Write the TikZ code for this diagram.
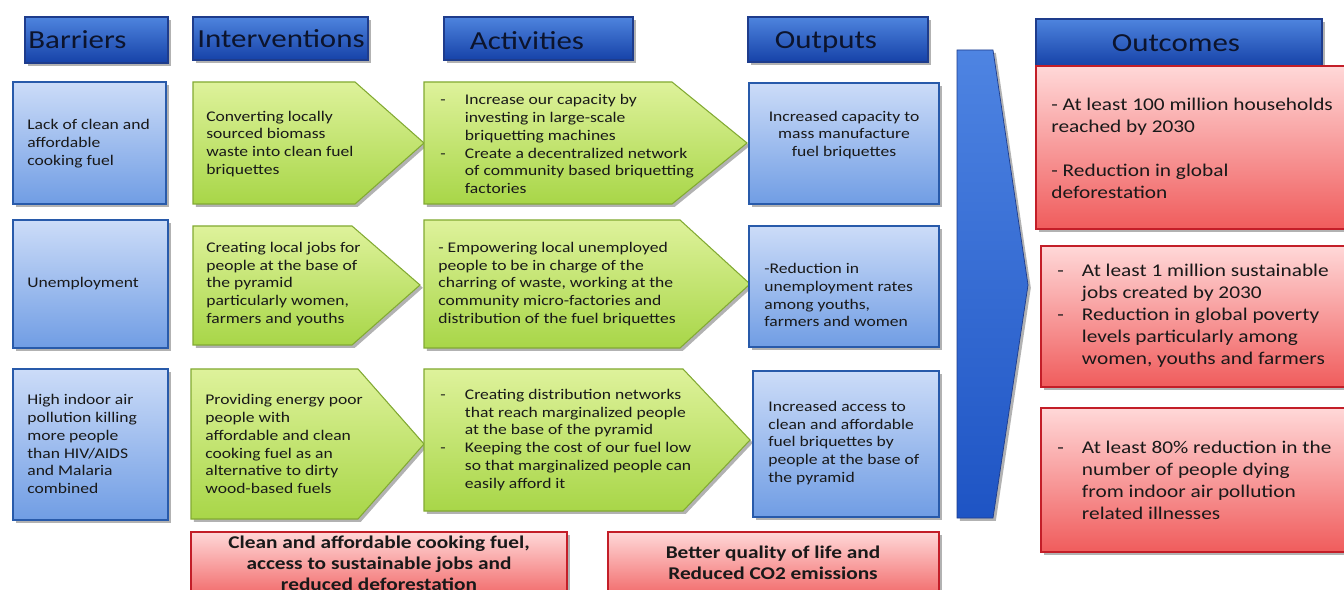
\documentclass[tikz,border=0pt]{standalone}
\usepackage{fontspec}
\setmainfont{Carlito}[FakeStretch=1.19]
\usetikzlibrary{shadows}

\definecolor{hdtop}{RGB}{78,132,222}
\definecolor{hdbot}{RGB}{22,66,168}
\definecolor{hdline}{RGB}{30,60,140}
\definecolor{bltop}{RGB}{204,220,248}
\definecolor{blbot}{RGB}{112,157,228}
\definecolor{blline}{RGB}{40,90,170}
\definecolor{grtop}{RGB}{222,242,155}
\definecolor{grbot}{RGB}{168,214,72}
\definecolor{grline}{RGB}{130,170,50}
\definecolor{rdtop}{RGB}{255,216,216}
\definecolor{rdbot}{RGB}{240,92,92}
\definecolor{rdline}{RGB}{195,30,40}
\definecolor{chtop}{RGB}{78,132,226}
\definecolor{chbot}{RGB}{30,84,196}
\definecolor{txt}{RGB}{25,25,25}
\definecolor{txtdark}{RGB}{12,20,45}

\newcommand\dashlead{\makebox[14pt][l]{-}}
\newcommand\dashpad{\hspace*{14pt}}

\begin{document}
\begin{tikzpicture}[x=0.02cm,y=-0.02cm,
  shd/.style={drop shadow={shadow xshift=1.6pt,shadow yshift=-1.6pt,opacity=0.3,fill=black}},
  hdr/.style={shd,draw=hdline,line width=0.6pt,top color=hdtop,bottom color=hdbot},
  bluebox/.style={shd,draw=blline,line width=0.8pt,top color=bltop,bottom color=blbot},
  grnbox/.style={shd,draw=grline,line width=0.6pt,top color=grtop,bottom color=grbot},
  redbox/.style={shd,draw=rdline,line width=0.8pt,top color=rdtop,bottom color=rdbot},
  chev/.style={shd,draw=hdline,line width=0.4pt,top color=chtop,bottom color=chbot},
  hdtext/.style={font=\fontsize{14.8}{17}\selectfont,text=txtdark,inner sep=0pt},
  body/.style={font=\fontsize{8.4}{10.2}\selectfont,text=txt,align=left,anchor=west,inner sep=0pt},
  outc/.style={font=\fontsize{10.2}{12.5}\selectfont,text=txt,align=left,anchor=west,inner sep=0pt},
  concl/.style={font=\fontsize{10.2}{11.9}\selectfont\bfseries,text=txt,align=center,inner sep=0pt}
]
\useasboundingbox (0,0) rectangle (1344,590);
\fill[white] (0,0) rectangle (1344,590);

% column headers
\path[hdr] (25,17) rectangle (168,63);
\path[hdr] (193,17) rectangle (368,60);
\path[hdr] (444,17) rectangle (633,60);
\path[hdr] (748,17) rectangle (928,62);
\path[hdr] (1036,19) rectangle (1322,66);
\node[hdtext,anchor=west] (hBar) at (28,40) {Barriers};
\node[hdtext] (hInt) at (281,39) {Interventions};
\node[hdtext] (hAct) at (527,41) {Activities};
\node[hdtext] (hOut) at (826,42) {Outputs};
\node[hdtext] (hOc) at (1176,43) {Outcomes};

% barriers
\path[bluebox] (13,82) rectangle (166,204);
\path[bluebox] (13,220) rectangle (168,348);
\path[bluebox] (13,369) rectangle (168,520);
\node[body] (b1) at (27,144) {Lack of clean and\\affordable\\cooking fuel};
\node[body] (b2) at (27,284) {Unemployment};
\node[body] (b3) at (27,444) {High indoor air\\pollution killing\\more people\\than HIV/AIDS\\and Malaria\\combined};

% interventions
\path[grnbox] (193,82) -- (355,82) -- (424,143) -- (355,204) -- (193,204) -- cycle;
\path[grnbox] (193,226) -- (352,226) -- (420,285) -- (352,345) -- (193,345) -- cycle;
\path[grnbox] (191,369) -- (358,369) -- (424,444) -- (358,519) -- (191,519) -- cycle;
\node[body] (i1) at (206,144) {Converting locally\\sourced biomass\\waste into clean fuel\\briquettes};
\node[body] (i2) at (206,284) {Creating local jobs for\\people at the base of\\the pyramid\\particularly women,\\farmers and youths};
\node[body] (i3) at (205,444) {Providing energy poor\\people with\\affordable and clean\\cooking fuel as an\\alternative to dirty\\wood-based fuels};

% activities
\path[grnbox] (424,82) -- (672,82) -- (747,143) -- (672,204) -- (424,204) -- cycle;
\path[grnbox] (424,220) -- (680,220) -- (750,284) -- (680,348) -- (424,348) -- cycle;
\path[grnbox] (424,369) -- (683,369) -- (750,440) -- (683,511) -- (424,511) -- cycle;
\node[body] (a1) at (440,144) {\dashlead Increase our capacity by\\\dashpad investing in large-scale\\\dashpad briquetting machines\\\dashlead Create a decentralized network\\\dashpad of community based briquetting\\\dashpad factories};
\node[body] (a2) at (438,284) {- Empowering local unemployed\\people to be in charge of the\\charring of waste, working at the\\community micro-factories and\\distribution of the fuel briquettes};
\node[body] (a3) at (440,440) {\dashlead Creating distribution networks\\\dashpad that reach marginalized people\\\dashpad at the base of the pyramid\\\dashlead Keeping the cost of our fuel low\\\dashpad so that marginalized people can\\\dashpad easily afford it};

% outputs
\path[bluebox] (749,83) rectangle (939,204);
\path[bluebox] (749,226) rectangle (939,347);
\path[bluebox] (753,371) rectangle (939,517);
\node[body,align=center,anchor=center] (o1) at (844,135) {Increased capacity to\\mass manufacture\\fuel briquettes};
\node[body] (o2) at (764,295) {-Reduction in\\unemployment rates\\among youths,\\farmers and women};
\node[body] (o3) at (768,443) {Increased access to\\clean and affordable\\fuel briquettes by\\people at the base of\\the pyramid};

% large arrow towards the outcomes
\path[chev] (957,50) -- (993,50) -- (1028,285) -- (993,518) -- (957,518) -- cycle;

% outcomes
\path[redbox] (1036,66) rectangle (1352,229);
\path[redbox] (1041,246) rectangle (1352,387);
\path[redbox] (1041,408) rectangle (1352,552);
\node[outc] (c1) at (1051,148) {- At least 100 million households\\reached by 2030\\[12.5pt]- Reduction in global\\deforestation};
\node[outc] (c2) at (1057,316) {\dashlead At least 1 million sustainable\\\dashpad jobs created by 2030\\\dashlead Reduction in global poverty\\\dashpad levels particularly among\\\dashpad women, youths and farmers};
\node[outc] (c3) at (1057,480) {\dashlead At least 80\% reduction in the\\\dashpad number of people dying\\\dashpad from indoor air pollution\\\dashpad related illnesses};

% overall results
\path[redbox] (191,532) rectangle (567,604);
\path[redbox] (608,532) rectangle (939,604);
\node[concl] (d1) at (379,563) {Clean and affordable cooking fuel,\\access to sustainable jobs and\\reduced deforestation};
\node[concl] (d2) at (773,563) {Better quality of life and\\Reduced CO2 emissions};
\end{tikzpicture}
\end{document}
